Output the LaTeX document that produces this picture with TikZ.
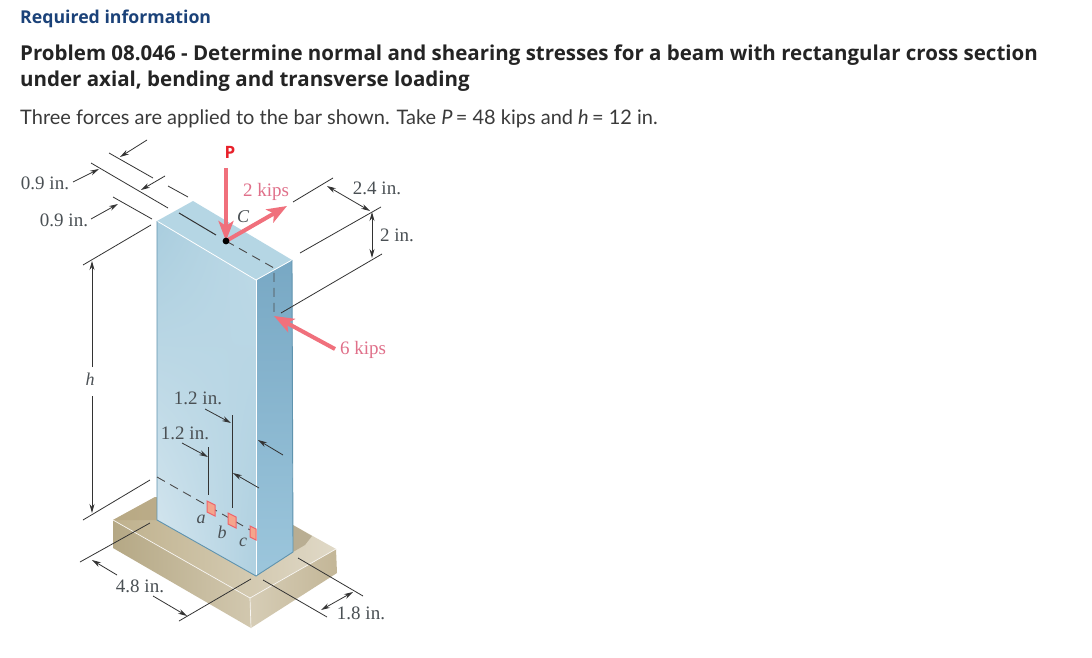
\documentclass[tikz,border=0pt]{standalone}
\usepackage{fontspec}
\setmainfont{Liberation Serif}
\newfontfamily\headfont{Lato}
\newfontfamily\boldfont{Open Sans}
\usetikzlibrary{arrows.meta,shadings}
\definecolor{headblue}{HTML}{1B4279}
\definecolor{headtext}{HTML}{242424}
\definecolor{bodytext}{HTML}{3A3A3A}
\definecolor{pinkarrow}{HTML}{F0707C}
\definecolor{redP}{HTML}{E8202A}
\definecolor{dimtext}{HTML}{4A5054}
\definecolor{pinktext}{HTML}{E0708A}
\definecolor{bartop}{HTML}{B5D6E4}
\definecolor{sideT}{HTML}{78A8C4}
\definecolor{sideB}{HTML}{9CC6DC}
\definecolor{sideE}{HTML}{5F93AE}
\definecolor{gaugefill}{HTML}{F4A58C}
\definecolor{baseshadow}{HTML}{B3A27C}
\definecolor{baseA}{HTML}{BFB18D}
\definecolor{baseB}{HTML}{E0D9C7}
\definecolor{baseC}{HTML}{B5A885}
\definecolor{baseD}{HTML}{D2C8AF}
\definecolor{baseE}{HTML}{D6CDB6}
\definecolor{baseF}{HTML}{C3B697}
\definecolor{barUL}{HTML}{A9CDDE}
\definecolor{barUR}{HTML}{BEDAE7}
\definecolor{barLL}{HTML}{D8E8F0}
\definecolor{barLR}{HTML}{AFD0E0}
\tikzset{
  dimline/.style={draw=black!80,line width=0.8pt},
  dimarrow/.style={draw=black!80,line width=0.8pt,-{Stealth[length=9pt,width=5pt]}},
  dimboth/.style={draw=black!80,line width=0.8pt,{Stealth[length=9pt,width=5pt]}-{Stealth[length=9pt,width=5pt]}},
  forcearrow/.style={draw=pinkarrow,line width=4pt,-{Stealth[length=20pt,width=15pt,inset=5pt]}},
  dimlabel/.style={text=dimtext,font=\fontsize{19}{19}\selectfont,inner sep=0pt},
  dimitalic/.style={text=dimtext,font=\itshape\fontsize{18}{18}\selectfont,inner sep=0pt},
  pinklabel/.style={text=pinktext,font=\fontsize{19}{19}\selectfont,inner sep=0pt},
  hiddenline/.style={draw=black!70,line width=0.9pt,dash pattern=on 9pt off 6pt},
  gauge/.style={draw=redP!70,fill=gaugefill,line width=1pt},
  heading/.style={anchor=west,inner sep=0pt,text=headtext,font=\boldfont\bfseries\fontsize{20.5}{20.5}\selectfont},
}
\begin{document}
\begin{tikzpicture}[x=1pt,y=-1pt]
\useasboundingbox (0,0) rectangle (1092,658);
\fill[white] (0,0) rectangle (1092,658);
% texts
\node[heading,text=headblue,font=\boldfont\bfseries\fontsize{17.7}{17.7}\selectfont] (req) at (20,19) {Required information};
\node[heading] (t1) at (20,55.5) {Problem 08.046 - Determine normal and shearing stresses for a beam with rectangular cross section};
\node[heading] (t2) at (20,81.5) {under axial, bending and transverse loading};
\node[anchor=west,inner sep=0pt,text=bodytext,font=\headfont\fontsize{20}{20}\selectfont] (t3) at (20,119) {Three forces are applied to the bar shown. Take \textit{P}\,= 48 kips and \textit{h}\,= 12 in.};
% base
\shade[left color=baseA,right color=baseB] (113,520) -- (155,497) -- (293,525) -- (336,549) -- (250,598) -- cycle;
\fill[baseshadow,opacity=.55] (113,520) -- (155,497) -- (160,497) -- (160,520) -- cycle;
\fill[baseshadow!85!black,opacity=.5] (293,525) -- (312,536) -- (305,545) -- (293,552) -- cycle;
\shade[left color=baseC,right color=baseD] (113,520) -- (250,598) -- (251,628) -- (113,548) -- cycle;
\shade[left color=baseE,right color=baseF] (250,598) -- (336,549) -- (337,573) -- (251,628) -- cycle;
\draw[white!90!baseC,line width=0.7pt] (113,520) -- (250,598) -- (336,549);
\draw[white!90!baseC,line width=0.7pt] (250,598) -- (251,628);
% bar
\shade[upper left=barUL,upper right=barUR,lower left=barLL,lower right=barLR] (157,221) -- (256,280) -- (256,576) -- (157,520) -- cycle;
\shade[top color=sideT,bottom color=sideB] (256,280) -- (292,260) -- (293,552) -- (256,576) -- cycle;
\fill[bartop] (157,221) -- (193,201) -- (292,260) -- (256,280) -- cycle;
\draw[white,line width=0.8pt] (157,221) -- (256,280) -- (292,260);
\draw[white,line width=0.8pt] (256,280) -- (256,576);
\draw[sideE,line width=0.9pt] (157,221) -- (157,520) -- (256,576) -- (293,552) -- (292,260);
% hidden lines
\coordinate (m1) at (179,213);
\coordinate (m1b) at (216,235);
\coordinate (c) at (226,241);
\coordinate (m2) at (274,268);
\coordinate (m3) at (274,315);
\draw[dimline,line width=1pt] (m1) -- (m1b);
\draw[hiddenline] (c) -- (m2) -- (m3);
\coordinate (d1) at (157,477);
\coordinate (gC) at (252,531);
\draw[hiddenline] (d1) -- (gC);
\draw[gauge] (207,501) -- (215,505) -- (215,516) -- (207,512) -- cycle;
\draw[gauge] (228,513) -- (236,517) -- (236,528) -- (228,524) -- cycle;
\draw[gauge] (250,526) -- (256,529) -- (256,540) -- (250,537) -- cycle;
\node[dimitalic] (la) at (201,519) {a};
\node[dimitalic] (lb) at (222,532) {b};
\node[dimitalic] (lc) at (243,542) {c};
% upper-left dims
\coordinate (a1) at (109,153);
\coordinate (a1b) at (153,178);
\coordinate (a1c) at (168,186);
\coordinate (a2) at (188,197);
\coordinate (b1) at (91,163);
\coordinate (b2) at (168,208);
\coordinate (e1) at (113,197);
\coordinate (e2) at (152,219);
\coordinate (f1) at (83,265);
\coordinate (f2) at (151,225);
\draw[dimline] (a1) -- (a1b);
\draw[dimline] (a1c) -- (a2);
\draw[dimline] (b1) -- (b2);
\draw[dimline] (e1) -- (e2);
\draw[dimline] (f1) -- (f2);
\coordinate (ar1) at (147,140);
\coordinate (ar1e) at (120,157);
\coordinate (ar2) at (165,176);
\coordinate (ar2e) at (141,190);
\draw[dimarrow] (ar1) -- (ar1e);
\draw[dimarrow] (ar2) -- (ar2e);
\node[dimlabel] (d09a) at (45,183) {0.9 in.};
\node[dimlabel] (d09b) at (64,220) {0.9 in.};
\coordinate (x1) at (73,182);
\coordinate (x1e) at (99,169);
\coordinate (x2) at (91,219);
\coordinate (x2e) at (118,204);
\draw[dimarrow] (x1) -- (x1e);
\draw[dimarrow] (x2) -- (x2e);
% h dim
\node[dimitalic] (lh) at (90,379) {h};
\coordinate (h1) at (92,396);
\coordinate (h1e) at (92,513);
\coordinate (h2) at (92,367);
\coordinate (h2e) at (92,261);
\draw[dimarrow] (h2) -- (h2e);
\draw[dimarrow] (h1) -- (h1e);
\coordinate (g1) at (83,520);
\coordinate (g2) at (150,480);
\draw[dimline] (g1) -- (g2);
% forces
\node[text=redP,inner sep=0pt,font=\boldfont\bfseries\fontsize{17}{17}\selectfont] (P) at (230,152) {P};
\coordinate (Ps) at (226,168);
\draw[forcearrow] (Ps) -- (c);
\coordinate (F2) at (287,206);
\draw[forcearrow] (c) -- (F2);
\fill[black] (c) circle (3.4pt);
\node[pinklabel] (k2) at (266,192) {2 kips};
\node[dimitalic] (C) at (243,217) {C};
\coordinate (F6) at (335,349);
\coordinate (F6e) at (274,316);
\draw[forcearrow] (F6) -- (F6e);
\node[pinklabel] (k6) at (363,350) {6 kips};
% right dims
\coordinate (r1) at (293,202);
\coordinate (r2) at (333,178);
\coordinate (r3) at (300,253);
\coordinate (r4) at (381,207);
\coordinate (r5) at (281,313);
\coordinate (r6) at (382,254);
\draw[dimline] (r1) -- (r2);
\draw[dimline] (r3) -- (r4);
\draw[dimline] (r5) -- (r6);
\coordinate (s1) at (327,186);
\coordinate (s2) at (370,211);
\draw[dimboth] (s1) -- (s2);
\coordinate (s3) at (372,212);
\coordinate (s4) at (372,258);
\draw[dimboth] (s3) -- (s4);
\node[dimlabel] (d24) at (377,188) {2.4 in.};
\node[dimlabel] (d2) at (397,235) {2 in.};
% inner dims
\coordinate (u1) at (232,415);
\coordinate (u2) at (232,508);
\coordinate (v1) at (208,447);
\coordinate (v2) at (208,495);
\draw[dimline,line width=1pt] (u1) -- (u2);
\draw[dimline,line width=1pt] (v1) -- (v2);
\node[dimlabel] (d12a) at (198,398) {1.2 in.};
\node[dimlabel] (d12b) at (185,433) {1.2 in.};
\coordinate (w1) at (205,409);
\coordinate (w1e) at (231,423);
\coordinate (w2) at (182,443);
\coordinate (w2e) at (208,457);
\draw[dimarrow] (w1) -- (w1e);
\draw[dimarrow] (w2) -- (w2e);
\coordinate (w3) at (259,488);
\coordinate (w3e) at (233,473);
\coordinate (w4) at (283,455);
\coordinate (w4e) at (258,440);
\draw[dimarrow] (w3) -- (w3e);
\draw[dimarrow] (w4) -- (w4e);
% base dims
\coordinate (p1) at (80,562);
\coordinate (p2) at (150,523);
\coordinate (p3) at (179,621);
\coordinate (p4) at (251,579);
\draw[dimline] (p1) -- (p2);
\draw[dimline] (p3) -- (p4);
\coordinate (q1) at (117,575);
\coordinate (q1e) at (92,560);
\coordinate (q2) at (153,596);
\coordinate (q2e) at (187,616);
\draw[dimarrow] (q1) -- (q1e);
\draw[dimarrow] (q2) -- (q2e);
\node[dimlabel] (d48) at (140,586) {4.8 in.};
\coordinate (o1) at (263,580);
\coordinate (o2) at (327,617);
\coordinate (o3) at (298,558);
\coordinate (o4) at (363,596);
\draw[dimline] (o1) -- (o2);
\draw[dimline] (o3) -- (o4);
\coordinate (o5) at (321,610);
\coordinate (o6) at (353,592);
\draw[dimboth] (o5) -- (o6);
\node[dimlabel] (d18) at (361,613) {1.8 in.};
\end{tikzpicture}
\end{document}
